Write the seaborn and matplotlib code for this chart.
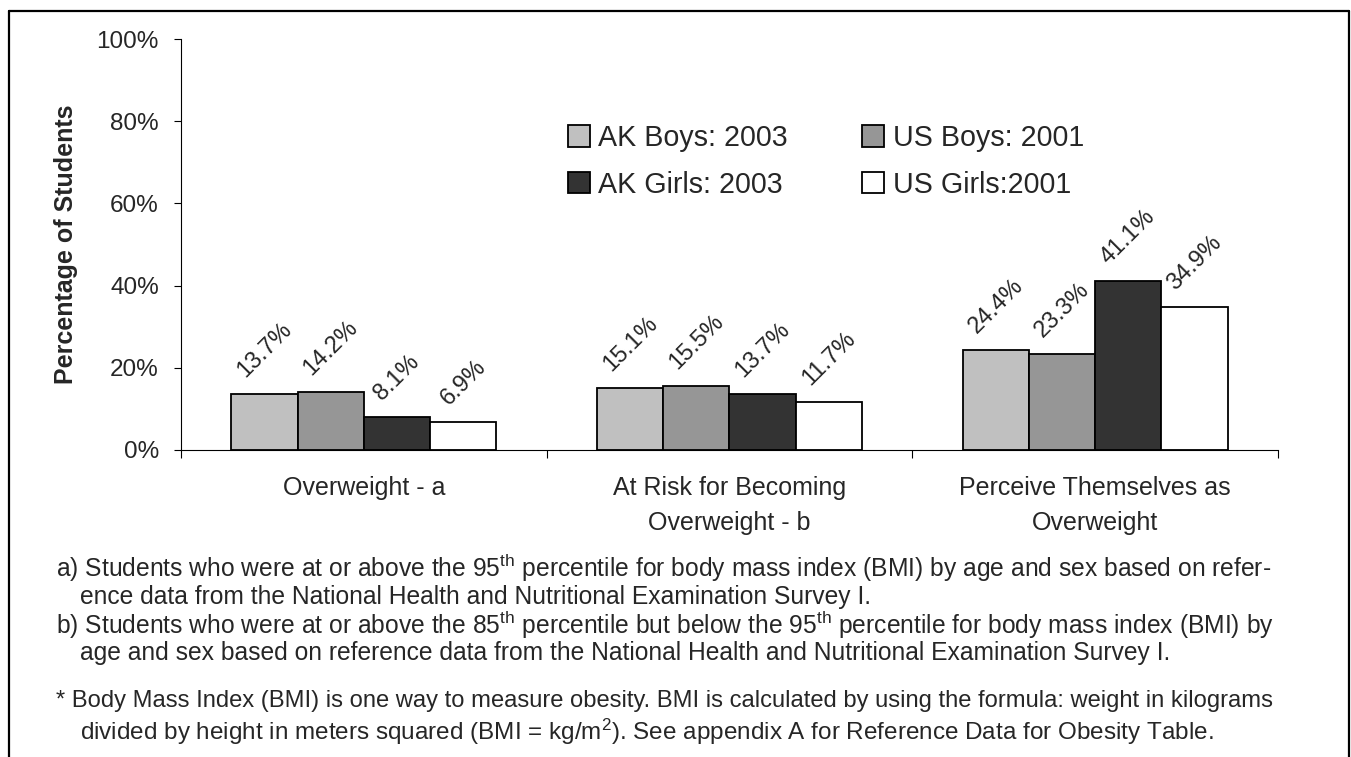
import pandas as pd
import matplotlib
matplotlib.use("Agg")
import matplotlib.pyplot as plt
from matplotlib.lines import Line2D
import seaborn as sns

# Datos del grafico
categorias = ['Overweight - a', 'At Risk for Becoming\nOverweight - b',
              'Perceive Themselves as\nOverweight']
grupos = ['AK Boys: 2003', 'US Boys: 2001', 'AK Girls: 2003', 'US Girls:2001']
ak_boys = [13.7, 15.1, 24.4]
us_boys = [14.2, 15.5, 23.3]
ak_girls = [8.1, 13.7, 41.1]
us_girls = [6.9, 11.7, 34.9]
colores = ['#c0c0c0', '#969696', '#333333', '#ffffff']
y_ticks = [0, 20, 40, 60, 80, 100]

notas = [
    (0.0415, 568, 17.7, 'a) Students who were at or above the 95$^{\\mathrm{th}}$ percentile for body mass index (BMI) by age and sex based on refer-'),
    (0.059, 597, 17.7, 'ence data from the National Health and Nutritional Examination Survey I.'),
    (0.0415, 625, 17.7, 'b) Students who were at or above the 85$^{\\mathrm{th}}$ percentile but below the 95$^{\\mathrm{th}}$ percentile for body mass index (BMI) by'),
    (0.059, 653, 17.7, 'age and sex based on reference data from the National Health and Nutritional Examination Survey I.'),
    (0.0415, 701, 17.1, '* Body Mass Index (BMI) is one way to measure obesity. BMI is calculated by using the formula: weight in kilograms'),
    (0.059, 732, 17.5, 'divided by height in meters squared (BMI = kg/m$^{2}$). See appendix A for Reference Data for Obesity Table.'),
]

sns.set_theme(style="white")
plt.rcParams['font.family'] = ['Liberation Sans', 'DejaVu Sans']
plt.rcParams['mathtext.fontset'] = 'custom'
plt.rcParams['mathtext.rm'] = 'Liberation Sans'
plt.rcParams['mathtext.it'] = 'Liberation Sans:italic'

df = pd.DataFrame({
    'categoria': categorias * 4,
    'grupo': [g for g in grupos for _ in categorias],
    'valor': ak_boys + us_boys + ak_girls + us_girls,
})

fig = plt.figure(figsize=(13.51, 7.57), dpi=100)
ax = fig.add_axes([181 / 1351, 1 - 450 / 757, (1278 - 181) / 1351, (450 - 39) / 757])

sns.barplot(data=df, x='categoria', y='valor', hue='grupo', hue_order=grupos,
            palette=colores, saturation=1, width=0.724, edgecolor='black',
            linewidth=1.3, ax=ax)

for cont in ax.containers:
    ax.bar_label(cont, fmt='%.1f%%', padding=9, rotation=45, fontsize=17)

ax.set_ylim(0, 100)
ax.set_xlim(-0.5, 2.5)
ax.set_yticks(y_ticks)
ax.set_yticklabels([f'{t}%' for t in y_ticks], fontsize=17.5)
ax.set_xlabel('')
ax.set_ylabel('Percentage of Students', fontsize=18, fontweight='bold', labelpad=13)
ax.tick_params(axis='y', length=5, width=0.8, pad=11, left=True, color='black')
ax.tick_params(axis='x', length=0, pad=19, labelsize=18)
for lbl in ax.get_xticklabels():
    lbl.set_linespacing(1.55)
ax.set_xticks([-0.5, 0.5, 1.5, 2.5], minor=True)
ax.tick_params(axis='x', which='minor', bottom=True, length=6, width=0.8, color='black')
sns.despine(ax=ax)
for s in ['left', 'bottom']:
    ax.spines[s].set_color('black')
    ax.spines[s].set_linewidth(0.8)

h, l = ax.get_legend_handles_labels()
orden = [0, 2, 1, 3]
ax.legend([h[i] for i in orden], [l[i] for i in orden], ncol=2, frameon=False,
          fontsize=20.6, loc='upper left', bbox_to_anchor=(568 / 1351, 1 - 124 / 757),
          bbox_transform=fig.transFigure, borderpad=0, borderaxespad=0,
          handlelength=0.76, handleheight=0.76, handletextpad=0.3,
          columnspacing=2.6, labelspacing=0.66)

for x, y, fs, txt in notas:
    fig.text(x, 1 - y / 757, txt, fontsize=fs, va='center', ha='left')

# marco exterior (abierto abajo)
x0, x1, ytop = 9 / 1351, 1349 / 1351, 1 - 11 / 757
for xs, ys in [([x0, x0], [0, ytop]), ([x0, x1], [ytop, ytop]), ([x1, x1], [ytop, 0])]:
    fig.add_artist(Line2D(xs, ys, color='black', linewidth=1.6, transform=fig.transFigure))

fig.savefig('out.png', dpi=100)
